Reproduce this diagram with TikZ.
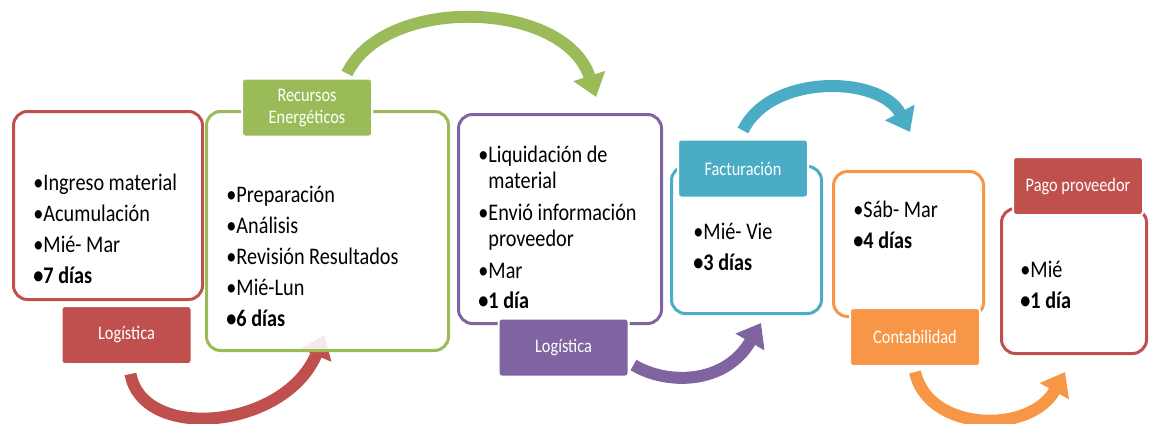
\documentclass[tikz,border=0pt]{standalone}
\usepackage{fontspec}
\setmainfont{Carlito}[FakeStretch=0.85]
\usetikzlibrary{arrows.meta,calc}

\definecolor{rojo}{HTML}{C0504D}
\definecolor{verde}{HTML}{9BBB59}
\definecolor{morado}{HTML}{8064A2}
\definecolor{azul}{HTML}{4BACC6}
\definecolor{naranja}{HTML}{F79646}

\pgfdeclarelayer{fondo}
\pgfsetlayers{fondo,main}

\newcommand\tope{\rule{0pt}{9pt}}

\tikzset{
  etapa/.style={draw=#1, line width=1.5pt, rounded corners=7pt, fill=white, fill opacity=.88},
  etiqueta/.style={fill=#1, draw=white, line width=1pt, rounded corners=1.5pt, text=white,
    minimum width=65pt, minimum height=29pt, inner sep=0pt, align=center,
    font=\fontsize{9.6}{11}\selectfont},
  texto/.style={anchor=north west, align=left, inner sep=0pt, font=\fontsize{11.9}{15.5}\selectfont},
  flecha/.style={draw=#1, line width=6pt, -{Triangle[length=11pt,width=16pt]}}
}

\begin{document}
\begin{tikzpicture}[x=0.5pt,y=-0.5pt]
\useasboundingbox (0,0) rectangle (1150,423);

% etapas
\node[etapa=rojo, minimum width=94.5pt, minimum height=94pt] (b1) at (108,205.5) {};
\node[etapa=verde, minimum width=121pt, minimum height=119.5pt] (b2) at (327.5,231) {};
\node[etapa=morado, minimum width=101.5pt, minimum height=104.5pt] (b3) at (560,219) {};
\node[etapa=azul, minimum width=75pt, minimum height=73.5pt] (b4) at (746.5,240) {};
\node[etapa=naranja, minimum width=75pt, minimum height=72.5pt] (b5) at (908.5,244) {};
\node[etapa=rojo, minimum width=72.5pt, minimum height=72.5pt] (b6) at (1074,281) {};

% etiquetas
\node[etiqueta=rojo] (l1) at (126.5,335) {Logística};
\node[etiqueta=verde] (l2) at (307,107.5) {Recursos\\Energéticos};
\node[etiqueta=morado] (l3) at (563.5,347.5) {Logística};
\node[etiqueta=azul] (l4) at (743,168.5) {Facturación};
\node[etiqueta=naranja] (l5) at (915,337) {Contabilidad};
\node[etiqueta=rojo] (l6) at (1078,186) {Pago proveedor};

% textos
\node[texto] (t1) at (33,172) {\tope•Ingreso material\\•Acumulación\\•Mié- Mar\\\textbf{•7 días}};
\node[texto] (t2) at (226,184) {\tope•Preparación\\•Análisis\\•Revisión Resultados\\•Mié-Lun\\\textbf{•6 días}};
\node[texto, font=\fontsize{11.9}{13}\selectfont] (t3) at (478,144) {\tope•Liquidación de\\\phantom{•}material\\[3pt]•Envió información\\\phantom{•}proveedor\\[3pt]•Mar\\[2pt]\textbf{•1 día}};
\node[texto] (t4) at (693,221) {\tope•Mié- Vie\\\textbf{•3 días}};
\node[texto] (t5) at (853,199) {\tope•Sáb- Mar\\\textbf{•4 días}};
\node[texto] (t6) at (1020,259) {\tope•Mié\\\textbf{•1 día}};

% flechas
\begin{pgfonlayer}{fondo}
\coordinate (r0) at ($(l1.south)+(4,9)$);
\coordinate (r1) at ($(b2.south)+(-3,-17)$);
\coordinate (v0) at ($(l2.north)+(40,-4)$);
\coordinate (v1) at ($(b3.north)+(36,-16)$);
\coordinate (m0) at ($(l3.east)+(4,17.5)$);
\coordinate (m1) at ($(b4.south)+(14.5,8)$);
\coordinate (a0) at ($(l4.north)+(0,-8)$);
\coordinate (a1) at ($(b5.north)+(1.5,-38)$);
\coordinate (n0) at ($(l5.south)+(0,5)$);
\coordinate (n1) at ($(b6.south)+(-9,17)$);
\draw[flecha=rojo] (r0) .. controls +(12,68) and +(-40,95) .. (r1);
\draw[flecha=verde] (v0) .. controls +(38,-79) and +(-31,-97) .. (v1);
\draw[flecha=morado] (m0) .. controls +(33,20) and +(-36,62) .. (m1);
\draw[flecha=azul] (a0) .. controls +(27,-57) and +(-30,-57) .. (a1);
\draw[flecha=naranja] (n0) .. controls +(13,60) and +(-35,63) .. (n1);
\end{pgfonlayer}
\end{tikzpicture}
\end{document}
